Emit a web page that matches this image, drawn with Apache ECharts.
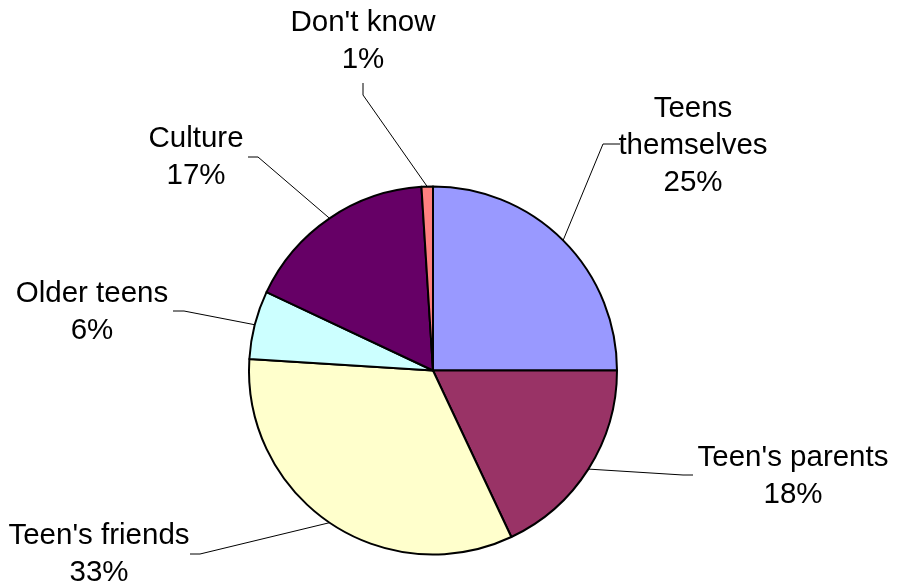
<!DOCTYPE html>
<html>
<head>
<meta charset="utf-8">
<script src="https://cdn.jsdelivr.net/npm/echarts@6/dist/echarts.min.js"></script>
<style>
  html, body { margin: 0; padding: 0; background: #ffffff; }
  #chart { width: 898px; height: 586px; }
</style>
</head>
<body>
<div id="chart"></div>
<script>
// Who influences teens: share of responses
const categories = ['Teens themselves', "Teen's parents", "Teen's friends", 'Older teens', 'Culture', "Don't know"];
const values = [25, 18, 33, 6, 17, 1];
const colors = ['#9999FF', '#993366', '#FFFFCC', '#CCFFFF', '#660066', '#FF8080'];

// Display text for each label (wrapped where the name is long)
const labelNames = ['Teens\nthemselves', "Teen's parents", "Teen's friends", 'Older teens', 'Culture', "Don't know"];

// Label anchor (centre of the text block) and the leader line bends, in pixels
const labelPlacement = [
  { x: 693, y: 146, bend: [603, 144], end: [620, 144] },
  { x: 793, y: 476, bend: [683, 475], end: [693, 475] },
  { x: 99,  y: 554, bend: [200, 554], end: [190, 554] },
  { x: 92,  y: 312, bend: [184, 311], end: [173, 311] },
  { x: 196, y: 157, bend: [258, 157], end: [248, 157] },
  { x: 363, y: 41,  bend: [363, 95],  end: [363, 83] }
];

const chart = echarts.init(document.getElementById('chart'), null, { renderer: 'canvas' });

chart.setOption({
  backgroundColor: '#ffffff',
  animation: false,
  series: [{
    type: 'pie',
    center: [433, 370.5],
    radius: 184,
    startAngle: 90,
    clockwise: true,
    avoidLabelOverlap: false,
    data: categories.map((name, i) => ({
      name: name,
      value: values[i],
      itemStyle: { color: colors[i] }
    })),
    itemStyle: { borderColor: '#000000', borderWidth: 2 },
    label: {
      show: true,
      position: 'outside',
      formatter: p => labelNames[p.dataIndex] + '\n' + p.value + '%',
      fontFamily: '"Liberation Sans", Arial, sans-serif',
      fontSize: 29.5,
      lineHeight: 37,
      color: '#000000',
      align: 'center'
    },
    labelLine: {
      show: true,
      length: 20,
      length2: 10,
      lineStyle: { color: '#000000', width: 1 }
    },
    labelLayout: function (params) {
      const lp = labelPlacement[params.dataIndex];
      const start = params.labelLinePoints ? params.labelLinePoints[0] : lp.bend;
      return {
        x: lp.x,
        y: lp.y,
        align: 'center',
        verticalAlign: 'middle',
        labelLinePoints: [start, lp.bend, lp.end]
      };
    },
    emphasis: { disabled: true }
  }]
});
</script>
</body>
</html>
